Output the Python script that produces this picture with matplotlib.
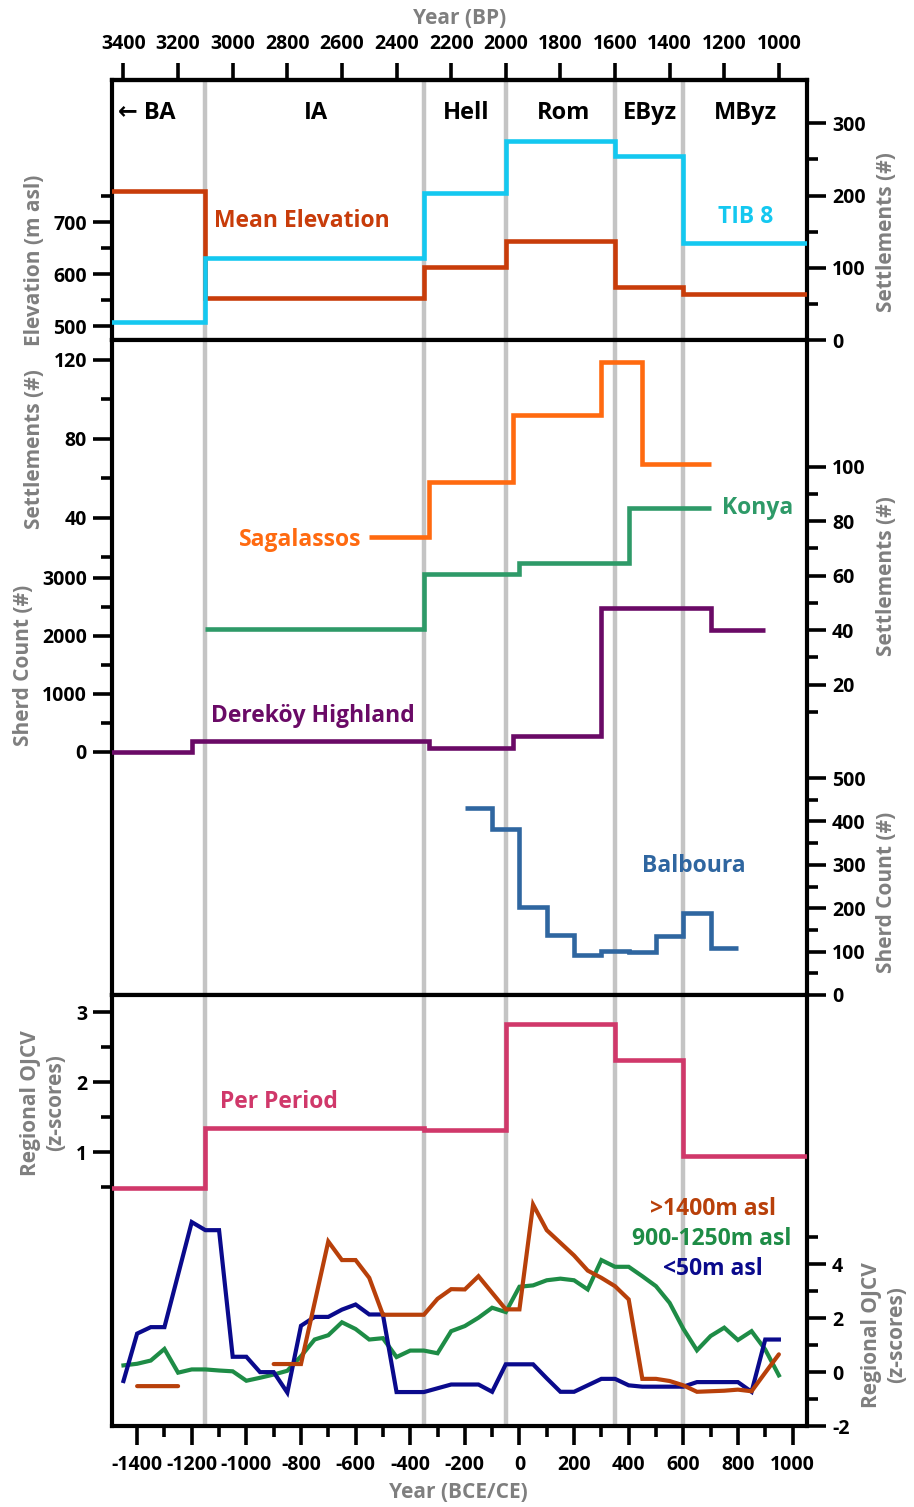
import matplotlib
matplotlib.use('Agg')
import matplotlib.pyplot as plt
import numpy as np

plt.rcParams['font.family'] = ['Open Sans', 'DejaVu Sans']
plt.rcParams['font.weight'] = 'bold'
plt.rcParams['axes.unicode_minus'] = False

# ---------------- data ----------------
period_edges = [-1500, -1150, -350, -50, 350, 600, 1100]
period_names = ['\u2190 BA', 'IA', 'Hell', 'Rom', 'EByz', 'MByz']
period_bounds = [-1150, -350, -50, 350, 600]

mean_elev = [760, 555, 614, 665, 575, 563]
tib8 = [25, 113, 204, 276, 255, 134]

sag_edges = [-550, -330, -25, 300, 450, 700]
sag_vals = [30, 58, 92, 119, 67]
konya_edges = [-1150, -350, 0, 400, 700]
konya_vals = [40.5, 60.5, 64.5, 85]
derekoy_edges = [-1500, -1200, -330, -25, 300, 700, 900]
derekoy_vals = [0, 180, 70, 270, 2470, 2100]
balboura_edges = [-200, -100, 0, 100, 200, 300, 400, 500, 600, 700, 800]
balboura_vals = [430, 383, 202, 138, 92, 102, 98, 137, 189, 108]

per_period = [0.49, 1.34, 1.32, 2.83, 2.32, 0.94]

high_years = [-1400, -1250, -1075, -900, -800, -700, -650, -600, -550, -500,
              -450, -400, -350, -300, -250, -200, -150, -50, 0, 50, 100, 150,
              200, 250, 300, 350, 400, 450, 500, 550, 600, 650, 700, 750, 800,
              850, 900, 950]
high_vals = [-0.52, -0.52, np.nan, 0.30, 0.30, 4.85, 4.16, 4.16, 3.50, 2.13,
             2.13, 2.13, 2.13, 2.72, 3.08, 3.07, 3.56, 2.33, 2.33, 6.22, 5.27,
             4.80, 4.33, 3.77, 3.50, 3.19, 2.70, -0.25, -0.25, -0.33, -0.49,
             -0.73, -0.71, -0.69, -0.65, -0.71, -0.02, 0.66]

mid_years = [-1450, -1400, -1350, -1300, -1250, -1200, -1150, -1100, -1050, -1000,
             -950, -900, -850, -800, -750, -700, -650, -600, -550, -500,
             -450, -400, -350, -300, -250, -200, -150, -100, -50, 0,
             50, 100, 150, 200, 250, 300, 350, 400, 450, 500,
             550, 600, 650, 700, 750, 800, 850, 900, 950]
mid_vals = [0.25, 0.31, 0.43, 0.86, -0.02, 0.10, 0.10, 0.06, 0.03, -0.32,
            -0.21, -0.09, 0.05, 0.59, 1.21, 1.37, 1.85, 1.60, 1.21, 1.26,
            0.56, 0.80, 0.80, 0.70, 1.52, 1.71, 2.02, 2.39, 2.23, 3.17,
            3.22, 3.41, 3.47, 3.41, 3.07, 4.16, 3.91, 3.91, 3.56, 3.19,
            2.57, 1.61, 0.81, 1.34, 1.65, 1.19, 1.52, 0.84, -0.12]

low_years = [-1450, -1400, -1350, -1300, -1200, -1150, -1100, -1050, -1000, -950,
             -900, -850, -800, -750, -700, -650, -600, -550, -500, -450,
             -400, -350, -300, -250, -200, -150, -100, -50, 0, 50,
             100, 150, 200, 250, 300, 350, 400, 450, 500, 550,
             600, 650, 700, 750, 800, 850, 900, 950]
low_vals = [-0.33, 1.43, 1.67, 1.67, 5.57, 5.27, 5.27, 0.57, 0.57, 0.0,
            0.0, -0.76, 1.72, 2.05, 2.05, 2.32, 2.51, 2.14, 2.14, -0.74,
            -0.74, -0.74, -0.60, -0.46, -0.46, -0.46, -0.73, 0.29, 0.29, 0.29,
            -0.23, -0.73, -0.73, -0.49, -0.25, -0.25, -0.49, -0.54, -0.54, -0.54,
            -0.54, -0.37, -0.37, -0.37, -0.37, -0.73, 1.21, 1.21]

bp_ticks = [3400, 3200, 3000, 2800, 2600, 2400, 2200, 2000, 1800, 1600, 1400, 1200, 1000]
ce_major = [-1400, -1200, -1000, -800, -600, -400, -200, 0, 200, 400, 600, 800, 1000]
ce_minor = [-1300, -1100, -900, -700, -500, -300, -100, 100, 300, 500, 700, 900]

# ---------------- colours ----------------
C_ELEV = '#c83c0a'
C_TIB = '#14c8f0'
C_SAG = '#ff6a10'
C_KON = '#2e9a68'
C_DER = '#6a0a66'
C_BAL = '#2f66a0'
C_PER = '#d0386a'
C_HIGH = '#b8400a'
C_MID = '#1e8c46'
C_LOW = '#0a0a8c'
C_GRID = '#c4c4c4'
C_LAB = '#7f7f7f'

# ---------------- layout ----------------
W, H = 914, 1507
fig = plt.figure(figsize=(W / 100, H / 100), dpi=100)

def fx(p):
    return p / W

def fy(p):
    return 1 - p / H

XLIM = (-1492, 1053)
LEFT, RIGHT = 112, 807

def rect(top, bottom):
    return [fx(LEFT), fy(bottom), fx(RIGHT) - fx(LEFT), fy(top) - fy(bottom)]

LW_SPINE = 3.0
LW_DATA = 3.3
TICK_FS = 14
DATA_FS = 16.5
PERIOD_FS = 17
AXLAB_FS = 15

def main_axes(top, bottom):
    ax = fig.add_axes(rect(top, bottom))
    ax.set_xlim(XLIM)
    ax.set_yticks([])
    ax.tick_params(axis='x', which='both', bottom=False, top=False, labelbottom=False)
    for s in ax.spines.values():
        s.set_linewidth(LW_SPINE)
        s.set_color('black')
    for b in period_bounds:
        ax.axvline(b, color=C_GRID, lw=3.2, zorder=0)
    return ax

def overlay(top, bottom, side, ylim, major, minor):
    a = fig.add_axes(rect(top, bottom))
    a.patch.set_visible(False)
    for s in a.spines.values():
        s.set_visible(False)
    a.set_xlim(XLIM)
    a.set_ylim(ylim)
    a.tick_params(axis='x', which='both', bottom=False, top=False, labelbottom=False)
    if side == 'left':
        a.yaxis.tick_left()
    else:
        a.yaxis.tick_right()
    a.set_yticks(major)
    a.set_yticks(minor, minor=True)
    a.tick_params(axis='y', which='major', length=14, width=2.6, direction='out',
                  labelsize=TICK_FS, pad=4)
    a.tick_params(axis='y', which='minor', length=8, width=2.6, direction='out')
    for t in a.get_yticklabels():
        t.set_fontweight('bold')
    return a

# ---------- top panel ----------
T0, T1 = 80, 340
ax1 = main_axes(T0, T1)
sec = ax1.secondary_xaxis('top', functions=(lambda x: 1950 - x, lambda x: 1950 - x))
sec.set_xticks(bp_ticks)
sec.tick_params(axis='x', length=12, width=2.6, direction='out', labelsize=TICK_FS, pad=7)
sec.spines['top'].set_linewidth(LW_SPINE)
for t in sec.get_xticklabels():
    t.set_fontweight('bold')

a_elev = overlay(T0, T1, 'left', (474, 974), [500, 600, 700], [550, 650, 750])
a_elev.stairs(mean_elev, period_edges, baseline=None, color=C_ELEV, lw=LW_DATA)
a_tib = overlay(T0, T1, 'right', (0, 360), [0, 100, 200, 300], [50, 150, 250])
a_tib.stairs(tib8, period_edges, baseline=None, color=C_TIB, lw=LW_DATA)

# ---------- middle panel ----------
M0, M1 = 340, 995
ax2 = main_axes(M0, M1)
a_sag = overlay(M0, M1, 'left', (-202, 130), [40, 80, 120], [20, 60, 100])
a_sag.stairs(sag_vals, sag_edges, baseline=None, color=C_SAG, lw=LW_DATA)
a_der = overlay(M0, M1, 'left', (-4184, 7091), [0, 1000, 2000, 3000], [500, 1500, 2500])
a_der.stairs(derekoy_vals, derekoy_edges, baseline=None, color=C_DER, lw=LW_DATA)
a_kon = overlay(M0, M1, 'right', (-94.1, 146.6), [20, 40, 60, 80, 100], [10, 30, 50, 70, 90])
a_kon.stairs(konya_vals, konya_edges, baseline=None, color=C_KON, lw=LW_DATA)
a_bal = overlay(M0, M1, 'right', (0, 1510), [0, 100, 200, 300, 400, 500],
                [50, 150, 250, 350, 450])
a_bal.stairs(balboura_vals, balboura_edges, baseline=None, color=C_BAL, lw=LW_DATA)

# ---------- bottom panel ----------
B0, B1 = 995, 1426
ax3 = main_axes(B0, B1)
ax3.set_xticks(ce_major)
ax3.set_xticks(ce_minor, minor=True)
ax3.tick_params(axis='x', which='both', bottom=True, labelbottom=True, direction='out',
                width=2.6, labelsize=TICK_FS, pad=7)
ax3.tick_params(axis='x', which='major', length=14)
ax3.tick_params(axis='x', which='minor', length=8)
for t in ax3.get_xticklabels():
    t.set_fontweight('bold')

a_per = overlay(B0, B1, 'left', (-2.92, 3.25), [1, 2, 3], [0.5, 1.5, 2.5])
a_per.stairs(per_period, period_edges, baseline=None, color=C_PER, lw=LW_DATA)
a_z = overlay(B0, B1, 'right', (-2, 14), [-2, 0, 2, 4], [-1, 1, 3, 5])
a_z.plot(mid_years, mid_vals, color=C_MID, lw=3.0, solid_joinstyle='miter')
a_z.plot(low_years, low_vals, color=C_LOW, lw=3.0, solid_joinstyle='miter')
a_z.plot(high_years, high_vals, color=C_HIGH, lw=3.0, solid_joinstyle='miter',
         solid_capstyle='round')

# ---------------- texts ----------------
def label(x, y, s, color, size=15, rot=0, **kw):
    fig.text(fx(x), fy(y), s, color=color, fontsize=size, fontweight='bold',
             ha='center', va='center', rotation=rot, **kw)

period_x = [147, 316, 466, 564, 650, 745]
for name, px in zip(period_names, period_x):
    label(px, 113, name, 'black', PERIOD_FS)

label(302, 221, 'Mean Elevation', C_ELEV, DATA_FS)
label(746, 217, 'TIB 8', C_TIB, DATA_FS)
label(300, 540, 'Sagalassos', C_SAG, DATA_FS)
label(758, 508, 'Konya', C_KON, DATA_FS)
label(313, 716, 'Dereköy Highland', C_DER, DATA_FS)
label(694, 866, 'Balboura', C_BAL, DATA_FS)
label(279, 1102, 'Per Period', C_PER, DATA_FS)
label(713, 1209, '>1400m asl', C_HIGH, DATA_FS)
label(712, 1239, '900-1250m asl', C_MID, DATA_FS)
label(713, 1269, '<50m asl', C_LOW, DATA_FS)

# axis titles
label(460, 18, 'Year (BP)', C_LAB, AXLAB_FS)
label(458, 1492, 'Year (BCE/CE)', C_LAB, AXLAB_FS)
label(35, 260, 'Elevation (m asl)', C_LAB, AXLAB_FS, rot=90)
label(886, 232, 'Settlements (#)', C_LAB, AXLAB_FS, rot=90)
label(35, 449, 'Settlements (#)', C_LAB, AXLAB_FS, rot=90)
label(24, 665, 'Sherd Count (#)', C_LAB, AXLAB_FS, rot=90)
label(886, 576, 'Settlements (#)', C_LAB, AXLAB_FS, rot=90)
label(886, 892, 'Sherd Count (#)', C_LAB, AXLAB_FS, rot=90)
label(43, 1103, 'Regional OJCV\n(z-scores)', C_LAB, AXLAB_FS, rot=90,
      multialignment='center', linespacing=1.3)
label(884, 1335, 'Regional OJCV\n(z-scores)', C_LAB, AXLAB_FS, rot=90,
      multialignment='center', linespacing=1.3)

fig.savefig('out.png', dpi=100)
